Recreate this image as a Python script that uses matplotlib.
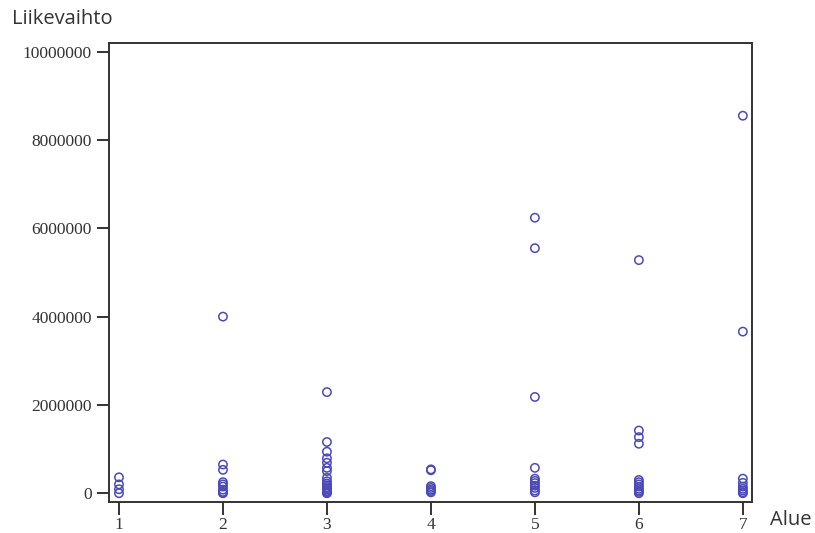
import matplotlib
matplotlib.use('Agg')
import matplotlib.pyplot as plt
import numpy as np

# Liikevaihto alueittain (luettu kuvasta)
alue_1 = [360000, 200000, 90000, 0]
alue_2 = [4000000, 650000, 530000, 250000, 200000, 150000, 80000, 30000, 10000, 0]
alue_3 = [2290000, 1160000, 940000, 790000, 690000, 575000, 500000, 350000,
          270000, 220000, 180000, 140000, 110000, 80000, 50000, 30000, 10000, 0]
alue_4 = [540000, 520000, 160000, 120000, 80000, 50000, 20000]
alue_5 = [6240000, 5550000, 2180000, 575000, 330000, 280000, 230000, 170000,
          120000, 60000, 20000]
alue_6 = [5280000, 1420000, 1270000, 1120000, 300000, 250000, 200000, 150000,
          100000, 60000, 30000, 0]
alue_7 = [8550000, 3660000, 330000, 235000, 150000, 100000, 60000, 20000, 0]

alueet = [1, 2, 3, 4, 5, 6, 7]
arvot = [alue_1, alue_2, alue_3, alue_4, alue_5, alue_6, alue_7]
y_ticks = [0, 2000000, 4000000, 6000000, 8000000, 10000000]

fig = plt.figure(figsize=(8.15, 5.33), dpi=100)
ax = fig.add_axes([109 / 815, 31 / 533, 643 / 815, 459 / 533])

for a, vals in zip(alueet, arvot):
    ax.scatter([a] * len(vals), vals, s=36, facecolors='none',
               edgecolors='#4a4ab8', linewidths=1.1, zorder=3)

ax.set_xlim(0.904, 7.088)
ax.set_ylim(-199000, 10197000)
ax.set_xticks(alueet)
ax.set_yticks(y_ticks)
ax.set_yticklabels([str(v) for v in y_ticks])

for s in ax.spines.values():
    s.set_color('#333333')
    s.set_linewidth(1.4)
ax.tick_params(axis='both', direction='out', length=9, width=1.4,
               color='#333333', labelcolor='#333333', labelsize=12.5)
ax.tick_params(axis='x', pad=2)
for lab in ax.get_xticklabels() + ax.get_yticklabels():
    lab.set_family('Liberation Serif')

fig.text(12 / 815, 1 - 19 / 533, 'Liikevaihto', fontsize=14.5, family='Open Sans',
         color='#333333', va='center', ha='left')
fig.text(770 / 815, 1 - 520 / 533, 'Alue', fontsize=14.5, family='Open Sans',
         color='#333333', va='center', ha='left')

fig.savefig('out.png', dpi=100)
